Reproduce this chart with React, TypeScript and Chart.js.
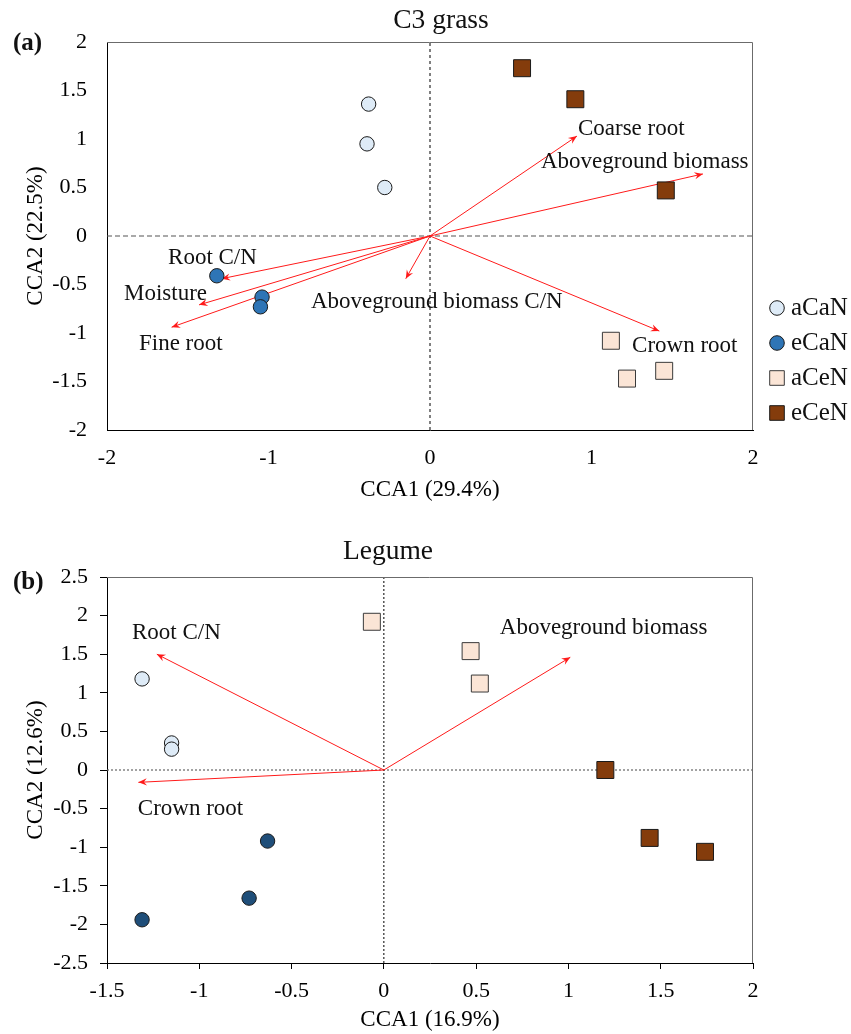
import React, { useEffect, useRef } from 'react';
import { Chart, registerables } from 'chart.js';

Chart.register(...registerables);

const SERIF = "'Liberation Serif', 'Times New Roman', Times, serif";

// ---------------- shared ----------------
const treatments = ['aCaN', 'eCaN', 'aCeN', 'eCeN'];

// ---------------- Panel (a): C3 grass ----------------
const grass_aCaN = [[-0.38, 1.36], [-0.39, 0.95], [-0.28, 0.5]];
const grass_eCaN = [[-1.32, -0.41], [-1.04, -0.63], [-1.05, -0.73]];
const grass_aCeN = [[1.12, -1.08], [1.22, -1.47], [1.45, -1.39]];
const grass_eCeN = [[0.57, 1.73], [0.9, 1.41], [1.46, 0.47]];

const grassVars = ['Coarse root', 'Aboveground biomass', 'Crown root', 'Aboveground biomass C/N', 'Root C/N', 'Moisture', 'Fine root'];
const grassVarCCA1 = [0.91, 1.69, 1.42, -0.15, -1.29, -1.43, -1.6];
const grassVarCCA2 = [1.03, 0.64, -0.98, -0.44, -0.44, -0.71, -0.94];

// ---------------- Panel (b): Legume ----------------
const legume_aCaN = [[-1.31, 1.18], [-1.15, 0.35], [-1.15, 0.27]];
const legume_eCaN = [[-0.63, -0.92], [-0.73, -1.66], [-1.31, -1.94]];
const legume_aCeN = [[-0.065, 1.92], [0.47, 1.54], [0.52, 1.12]];
const legume_eCeN = [[1.2, 0.0], [1.44, -0.88], [1.74, -1.06]];

const legumeVars = ['Root C/N', 'Aboveground biomass', 'Crown root'];
const legumeVarCCA1 = [-1.23, 1.01, -1.33];
const legumeVarCCA2 = [1.5, 1.46, -0.16];

// ---------------- layout / style (kept apart from data) ----------------
const grassLabelAnchors = [
  [0.916, 1.1], [0.687, 0.763], [1.251, -1.134], [-0.737, -0.68], [-1.622, -0.227], [-1.895, -0.598], [-1.802, -1.113],
];
const legumeLabelAnchors = [[-1.365, 1.77], [0.628, 1.84], [-1.333, -0.5]];

type Spec = {
  groups: number[][][];
  colors: string[];
  borders: string[];
  vars: string[];
  varX: number[];
  varY: number[];
  anchors: number[][];
  xMin: number; xMax: number; xStep: number;
  yMin: number; yMax: number; yStep: number;
  xTitle: string; yTitle: string;
  title: string; titleX: number; titleY: number;
  panel: string; panelY: number;
  padTop: number; xHeight: number;
  tickMarks: boolean;
  xTickPad: number; yTickPad: number;
  xTitlePadBottom: number;
  vDash: number[]; hDash: number[]; hColor: string;
  legend: boolean;
};

function makePlugin(spec: Spec) {
  return {
    id: 'ccaExtras',
    afterDatasetDraw(chart: any, args: any) {
      const ds: any = chart.data.datasets[args.index];
      if (!ds.isArrow) return;
      const pts = args.meta.data;
      const a = pts[0];
      const b = pts[1];
      const ang = Math.atan2(b.y - a.y, b.x - a.x);
      const c = Math.cos(ang);
      const s = Math.sin(ang);
      const L = 8.5;
      const W = 3.6;
      const ctx = chart.ctx;
      ctx.save();
      ctx.fillStyle = ds.borderColor;
      ctx.beginPath();
      ctx.moveTo(b.x, b.y);
      ctx.lineTo(b.x - L * c + W * s, b.y - L * s - W * c);
      ctx.lineTo(b.x - 0.65 * L * c, b.y - 0.65 * L * s);
      ctx.lineTo(b.x - L * c - W * s, b.y - L * s + W * c);
      ctx.closePath();
      ctx.fill();
      ctx.restore();
    },
    afterDraw(chart: any) {
      const { ctx, chartArea: ca, scales } = chart;
      ctx.save();
      // gray top and right frame
      ctx.strokeStyle = '#6b6b6b';
      ctx.lineWidth = 1;
      ctx.beginPath();
      ctx.moveTo(ca.left, Math.round(ca.top) + 0.5);
      ctx.lineTo(Math.round(ca.right) - 0.5, Math.round(ca.top) + 0.5);
      ctx.lineTo(Math.round(ca.right) - 0.5, ca.bottom);
      ctx.stroke();

      // variable labels
      ctx.fillStyle = '#111';
      ctx.font = `23px ${SERIF}`;
      ctx.textAlign = 'left';
      ctx.textBaseline = 'middle';
      spec.vars.forEach((name, i) => {
        const x = scales.x.getPixelForValue(spec.anchors[i][0]);
        const y = scales.y.getPixelForValue(spec.anchors[i][1]);
        ctx.fillText(name, x, y);
      });

      // chart title
      ctx.font = `27.5px ${SERIF}`;
      ctx.textAlign = 'center';
      ctx.fillText(spec.title, spec.titleX, spec.titleY);

      // panel letter
      ctx.font = `bold 25px ${SERIF}`;
      ctx.textAlign = 'left';
      ctx.fillText(spec.panel, 13, spec.panelY);

      // legend
      if (spec.legend) {
        const ds = chart.data.datasets;
        ctx.font = `25px ${SERIF}`;
        for (let i = 0; i < 4; i++) {
          const d: any = ds[i];
          const cx = ca.right + 24;
          const cy = ca.top + 266 + i * 35;
          ctx.fillStyle = d.backgroundColor;
          ctx.strokeStyle = d.borderColor;
          ctx.lineWidth = 1;
          ctx.beginPath();
          if (d.pointStyle === 'circle') {
            ctx.arc(cx, cy, 7.3, 0, Math.PI * 2);
          } else {
            ctx.rect(cx - 7.3, cy - 7.3, 14.6, 14.6);
          }
          ctx.fill();
          ctx.stroke();
          ctx.fillStyle = '#111';
          ctx.fillText(d.label, cx + 14, cy);
        }
      }
      ctx.restore();
    },
  };
}

function buildConfig(spec: Spec): any {
  const pointDatasets = spec.groups.map((g, i) => ({
    label: treatments[i],
    data: g.map(([x, y]) => ({ x, y })),
    pointStyle: i < 2 ? 'circle' : 'rect',
    pointRadius: i < 2 ? 7.2 : 12,
    backgroundColor: spec.colors[i],
    borderColor: spec.borders[i],
    borderWidth: 1,
    showLine: false,
  }));
  const arrowDatasets = spec.vars.map((name, i) => ({
    label: name,
    isArrow: true,
    data: [{ x: 0, y: 0 }, { x: spec.varX[i], y: spec.varY[i] }],
    showLine: true,
    borderColor: '#ff1a1a',
    borderWidth: 1,
    pointRadius: 0,
    fill: false,
  }));
  const zeroLines = [
    {
      label: 'zeroV',
      data: [{ x: 0, y: spec.yMin }, { x: 0, y: spec.yMax }],
      showLine: true, borderColor: '#000', borderWidth: 1, borderDash: spec.vDash, pointRadius: 0, fill: false,
    },
    {
      label: 'zeroH',
      data: [{ x: spec.xMin, y: 0 }, { x: spec.xMax, y: 0 }],
      showLine: true, borderColor: spec.hColor, borderWidth: 1.2, borderDash: spec.hDash, pointRadius: 0, fill: false,
    },
  ];
  const tickFont = { family: SERIF, size: 22 };
  const titleFont = { family: SERIF, size: 23 };
  return {
    type: 'scatter',
    data: { datasets: [...pointDatasets, ...arrowDatasets, ...zeroLines] },
    plugins: [makePlugin(spec)],
    options: {
      animation: false,
      responsive: true,
      maintainAspectRatio: false,
      events: [],
      layout: { padding: { top: spec.padTop, right: 98, left: 0, bottom: 0 } },
      plugins: { legend: { display: false }, tooltip: { enabled: false }, title: { display: false } },
      scales: {
        x: {
          type: 'linear',
          min: spec.xMin,
          max: spec.xMax,
          ticks: {
            stepSize: spec.xStep, padding: spec.xTickPad, color: '#000', font: tickFont,
            callback: (v: number) => String(Math.round(v * 100) / 100),
          },
          grid: { display: true, drawOnChartArea: false, drawTicks: spec.tickMarks, tickLength: 6, color: '#000' },
          border: { display: true, color: '#000', width: 1 },
          title: { display: true, text: spec.xTitle, color: '#000', font: titleFont, padding: { top: 0, bottom: spec.xTitlePadBottom } },
          afterFit: (s: any) => { s.height = spec.xHeight; },
        },
        y: {
          type: 'linear',
          min: spec.yMin,
          max: spec.yMax,
          ticks: {
            stepSize: spec.yStep, padding: spec.yTickPad, color: '#000', font: tickFont,
            callback: (v: number) => String(Math.round(v * 100) / 100),
          },
          grid: { display: true, drawOnChartArea: false, drawTicks: spec.tickMarks, tickLength: 7, color: '#000' },
          border: { display: true, color: '#000', width: 1 },
          title: { display: true, text: spec.yTitle, color: '#000', font: titleFont, padding: { top: 22, bottom: 0 } },
          afterFit: (s: any) => { s.width = 107; },
        },
      },
    },
  };
}

const grassSpec: Spec = {
  groups: [grass_aCaN, grass_eCaN, grass_aCeN, grass_eCeN],
  colors: ['#DEEBF7', '#2E75B6', '#FBE5D6', '#843C0C'],
  borders: ['#1a1a1a', '#1a1a1a', '#3a3a3a', '#1a1a1a'],
  vars: grassVars, varX: grassVarCCA1, varY: grassVarCCA2, anchors: grassLabelAnchors,
  xMin: -2, xMax: 2, xStep: 1,
  yMin: -2, yMax: 2, yStep: 0.5,
  xTitle: 'CCA1 (29.4%)', yTitle: 'CCA2 (22.5%)',
  title: 'C3 grass', titleX: 441, titleY: 21,
  panel: '(a)', panelY: 44,
  padTop: 42, xHeight: 85,
  tickMarks: false, xTickPad: 15, yTickPad: 20,
  xTitlePadBottom: 11,
  vDash: [3, 3], hDash: [5, 3], hColor: '#555',
  legend: true,
};

const legumeSpec: Spec = {
  groups: [legume_aCaN, legume_eCaN, legume_aCeN, legume_eCeN],
  colors: ['#DEEBF7', '#1F4E79', '#FBE5D6', '#843C0C'],
  borders: ['#1a1a1a', '#1a1a1a', '#3a3a3a', '#1a1a1a'],
  vars: legumeVars, varX: legumeVarCCA1, varY: legumeVarCCA2, anchors: legumeLabelAnchors,
  xMin: -1.5, xMax: 2, xStep: 0.5,
  yMin: -2.5, yMax: 2.5, yStep: 0.5,
  xTitle: 'CCA1 (16.9%)', yTitle: 'CCA2 (12.6%)',
  title: 'Legume', titleX: 388, titleY: 37,
  panel: '(b)', panelY: 68,
  padTop: 62, xHeight: 71,
  tickMarks: true, xTickPad: 9, yTickPad: 12,
  xTitlePadBottom: 0,
  vDash: [2, 2], hDash: [2, 2], hColor: '#666',
  legend: false,
};

function CcaChart({ spec, top, height }: { spec: Spec; top: number; height: number }) {
  const ref = useRef<HTMLCanvasElement>(null);
  useEffect(() => {
    const chart = new Chart(ref.current as HTMLCanvasElement, buildConfig(spec));
    return () => chart.destroy();
  }, [spec]);
  return (
    <div style={{ position: 'absolute', left: 0, top, width: 851, height }}>
      <canvas ref={ref} />
    </div>
  );
}

export default function App() {
  return (
    <div style={{ position: 'fixed', left: 0, top: 0, width: 851, height: 1034, background: '#fff', overflow: 'hidden' }}>
      <CcaChart spec={grassSpec} top={0} height={515} />
      <CcaChart spec={legumeSpec} top={515} height={519} />
    </div>
  );
}
